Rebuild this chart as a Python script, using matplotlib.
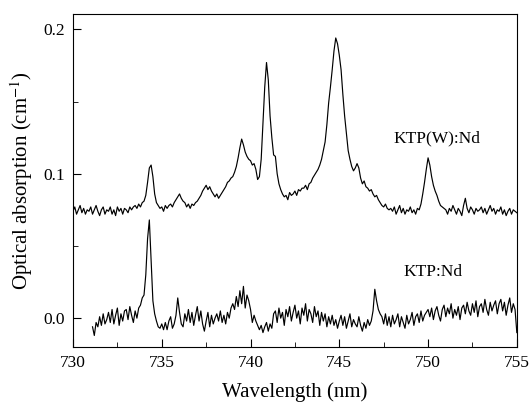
import matplotlib
matplotlib.use("Agg")
import matplotlib.pyplot as plt
import numpy as np
from matplotlib.ticker import MultipleLocator, FormatStrFormatter

plt.rcParams['font.family'] = ['Liberation Serif', 'DejaVu Serif']
plt.rcParams['mathtext.fontset'] = 'stix'

# Absorption values, in units of 1e-3 cm^-1, one row per nm (0.1 nm step)
# KTP(W):Nd, 730.0 .. 755.0 nm
upper_milli = [
    74, 77, 72, 75, 78, 73, 76, 72, 75, 74,
    77, 72, 75, 78, 74, 71, 75, 77, 72, 75,
    74, 77, 72, 75, 71, 77, 74, 76, 72, 76,
    75, 73, 77, 75, 77, 78, 76, 79, 77, 80,
    81, 85, 94, 104, 106, 98, 86, 80, 78, 76,
    77, 74, 78, 76, 78, 79, 77, 80, 82, 84,
    86, 83, 81, 80, 77, 79, 76, 79, 78, 80,
    81, 83, 85, 88, 90, 92, 89, 91, 88, 86,
    84, 86, 83, 85, 87, 89, 91, 94, 95, 97,
    98, 101, 105, 111, 118, 124, 120, 115, 112, 110,
    109, 106, 107, 103, 96, 98, 110, 135, 160, 177,
    165, 140, 125, 113, 112, 100, 93, 89, 86, 84,
    85, 82, 87, 85, 86, 88, 85, 89, 88, 90,
    90, 92, 89, 93, 94, 97, 99, 101, 103, 106,
    110, 116, 122, 134, 149, 160, 172, 185, 194, 190,
    182, 172, 155, 140, 128, 116, 110, 105, 102, 104,
    107, 104, 97, 93, 95, 91, 90, 88, 89, 86,
    84, 85, 82, 80, 78, 77, 79, 76, 75, 76,
    74, 77, 72, 75, 78, 73, 76, 72, 75, 74,
    77, 73, 75, 72, 76, 75, 79, 86, 94, 103,
    111, 106, 98, 92, 88, 85, 81, 78, 77, 76,
    75, 72, 76, 74, 78, 75, 72, 76, 74, 71,
    78, 83, 76, 73, 77, 75, 72, 76, 74, 75,
    77, 73, 76, 72, 75, 78, 74, 76, 72, 75,
    74, 77, 72, 75, 71, 74, 76, 72, 75, 74,
    73,
]

# KTP:Nd, 731.1 .. 755.0 nm
lower_milli = [
    -6, -12, -3, -6, 1, -5, 3, -4, -1,
    4, -3, 6, -4, 2, 7, -5, 3, -2, 5,
    6, -1, 8, 2, -3, 5, 0, 7, 9, 14,
    16, 30, 55, 68, 40, 12, 3, -2, -6, -7,
    -4, -8, -3, -8, -2, 1, -7, -4, 2, 14,
    4, -4, -6, 3, -2, 6, -3, 4, -5, 2,
    8, -2, 5, -4, -9, -2, 4, -6, 2, -4,
    0, 3, -2, 5, -3, 2, -4, 4, 0, 7,
    10, 6, 15, 8, 19, 10, 22, 7, 16, 12,
    6, -3, 2, -2, -5, -8, -5, -10, -6, -3,
    -9, -4, -7, 3, 5, -3, 7, 0, 4, -5,
    6, 1, 8, -2, 4, 9, 0, 5, -4, 7,
    2, 10, -2, 6, 3, -3, 8, 1, 5, -5,
    4, -2, 3, -6, 1, -4, 2, -5, -1, -7,
    -2, 2, -5, 1, -7, -2, 3, -6, -1, -4,
    -6, 1, -5, -9, -3, -7, -1, -5, -2, 5,
    20, 12, 6, 3, 1, -4, 3, -5, 1, -6,
    2, -4, -1, 3, -6, 1, -3, -7, 2, -4,
    -1, 4, -5, 1, 3, -3, 5, -2, 2, 4,
    6, 1, 7, -1, 5, 8, 2, -2, 6, 9,
    1, 7, 3, 10, 0, 6, 2, 8, -1, 7,
    9, 3, 11, 5, 2, 10, 4, 12, 1, 8,
    10, 4, 13, 6, 2, 11, 5, 9, 12, 3,
    10, 13, 5, 11, 2, 9, 14, 4, 10, 6,
    -10,
]

upper = np.array(upper_milli) / 1000.0
lower = np.array(lower_milli) / 1000.0
wl_upper = 730.0 + 0.1 * np.arange(len(upper))
wl_lower = 731.1 + 0.1 * np.arange(len(lower))

fig = plt.figure(figsize=(5.29, 4.04), dpi=100)
ax = fig.add_axes([0.138, 0.141, 0.839, 0.824])

ax.plot(wl_upper, upper, color='black', lw=0.85)
ax.plot(wl_lower, lower, color='black', lw=0.85)

ax.text(750.5, 0.1246, "KTP(W):Nd", fontsize=12.5, ha='center', va='center')
ax.text(750.3, 0.0318, "KTP:Nd", fontsize=12.5, ha='center', va='center')

ax.set_xlim(730, 755)
ax.set_ylim(-0.020, 0.2105)
ax.xaxis.set_major_locator(MultipleLocator(5))
ax.xaxis.set_minor_locator(MultipleLocator(2.5))
ax.yaxis.set_major_locator(MultipleLocator(0.1))
ax.yaxis.set_minor_locator(MultipleLocator(0.05))
ax.yaxis.set_major_formatter(FormatStrFormatter('%.1f'))
ax.tick_params(which='both', direction='in', top=False, right=False, labelsize=12.5, pad=6)
ax.tick_params(which='major', length=6)
ax.tick_params(which='minor', length=3.5)

ax.set_xlabel("Wavelength (nm)", fontsize=15, labelpad=8)
ax.set_ylabel("Optical absorption (cm$^{-1}$)", fontsize=15, labelpad=6)

fig.savefig("out.png", dpi=100)
